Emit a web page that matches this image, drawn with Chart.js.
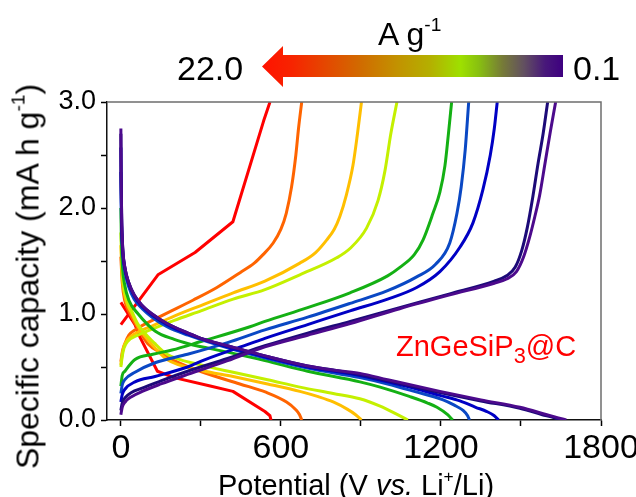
<!DOCTYPE html>
<html>
<head>
<meta charset="utf-8">
<script src="https://cdn.jsdelivr.net/npm/chart.js@4.4.1/dist/chart.umd.min.js"></script>
<style>
  html, body { margin: 0; padding: 0; background: #fff; }
  #wrap { position: relative; width: 636px; height: 497px; overflow: hidden; font-family: "Liberation Sans", Arial, sans-serif; color: #000; }
  #wrap canvas { position: absolute; left: 0; top: 0; }
  .txt { position: absolute; white-space: nowrap; }
  .sup { font-size: 0.6em; position: relative; top: -0.75em; }
  .sub { font-size: 0.75em; position: relative; top: 0.3em; }
  #arrow {
    position: absolute; left: 262px; top: 46px; width: 301px; height: 41px;
    clip-path: polygon(0 50%, 21px 0, 21px 9px, 100% 9px, 100% 31px, 21px 31px, 21px 100%);
    background: linear-gradient(to right, #ff1200 0%, #f72400 10%, #e34a00 22%, #d06c00 33%, #c29200 45%, #b4b000 56%, #9ee000 66%, #88c010 72%, #767a38 80%, #625060 87%, #48187a 94%, #3e0080 100%);
  }
</style>
</head>
<body>
<div id="wrap">
  <canvas id="chart" width="636" height="497"></canvas>
  <div id="arrow"></div>
  <div class="txt" style="left:378px; top:18px; font-size:32px; line-height:32px;">A g<span class="sup">-1</span></div>
  <div class="txt" style="left:177px; top:51px; font-size:34px; line-height:34px;">22.0</div>
  <div class="txt" style="left:573px; top:51px; font-size:34px; line-height:34px;">0.1</div>
  <div class="txt" style="left:396px; top:332px; font-size:29px; line-height:29px; color:#ff0000;">ZnGeSiP<span class="sub">3</span>@C</div>
  <div class="txt" style="left:106px; width:500px; text-align:center; top:471px; font-size:29px; line-height:29px;">Potential (V <i>vs.</i> Li<span class="sup">+</span>/Li)</div>
  <div class="txt" style="left:-190px; width:440px; text-align:center; top:258px; font-size:32px; line-height:32px; transform:rotate(-90deg);">Specific capacity (mA h g<span class="sup">-1</span>)</div>
</div>
<script>
// axis ticks
const xTicks = [0, 300, 600, 900, 1200, 1500, 1800];
const yTicks = [0, 0.5, 1.0, 1.5, 2.0, 2.5, 3.0];

// current densities, slowest (0.1 A/g) first, fastest (22.0 A/g) last
const curveColors = ['#4c0a8c', '#1c0a78', '#0000c4', '#0a48c4', '#14b014', '#c4f000', '#ffbf00', '#ff6400', '#ff0000'];

// charge branches [x, y]
const purpleCharge = [[0,0.05],[5,0.12],[16,0.17],[40,0.22],[80,0.27],[150,0.34],[250,0.43],[400,0.56],[540,0.69],[700,0.8],[860,0.91],[1045,1.05],[1233,1.18],[1400,1.29],[1446,1.33],[1483,1.4],[1510,1.54],[1532,1.72],[1552,1.92],[1570,2.12],[1590,2.42],[1610,2.72],[1630,3.0]];
const navyCharge = [[0,0.09],[5,0.16],[16,0.21],[40,0.26],[80,0.3],[150,0.37],[250,0.46],[400,0.58],[540,0.7],[700,0.82],[860,0.93],[1045,1.06],[1233,1.19],[1400,1.31],[1446,1.36],[1478,1.44],[1503,1.6],[1524,1.82],[1544,2.1],[1564,2.42],[1583,2.7],[1600,3.0]];
const blueCharge = [[0,0.17],[5,0.24],[15,0.29],[53,0.36],[128,0.41],[250,0.5],[316,0.57],[484,0.72],[540,0.77],[700,0.9],[859,1.03],[1000,1.14],[1109,1.25],[1196,1.4],[1271,1.63],[1320,1.86],[1357,2.17],[1385,2.5],[1400,2.75],[1411,3.0]];
const midBlueCharge = [[0,0.25],[5,0.33],[15,0.38],[53,0.45],[128,0.54],[250,0.62],[400,0.73],[540,0.85],[700,0.97],[859,1.1],[1000,1.22],[1109,1.35],[1180,1.47],[1233,1.67],[1260,1.95],[1276,2.2],[1291,2.55],[1304,3.0]];
const greenCharge = [[0,0.32],[5,0.42],[15,0.46],[53,0.57],[120,0.62],[192,0.66],[300,0.74],[484,0.88],[540,0.93],[700,1.06],[859,1.2],[1000,1.36],[1046,1.44],[1100,1.56],[1133,1.7],[1170,1.95],[1196,2.15],[1215,2.4],[1228,2.7],[1240,3.0]];
const yGreenCharge = [[0,0.5],[5,0.6],[12,0.68],[25,0.74],[64,0.8],[110,0.85],[200,0.94],[300,1.03],[421,1.14],[540,1.23],[671,1.37],[809,1.53],[860,1.62],[921,1.81],[964,2.07],[990,2.35],[1012,2.7],[1035,3.0]];
const yOrangeCharge = [[0,0.52],[5,0.62],[12,0.7],[25,0.76],[64,0.83],[110,0.88],[200,0.98],[300,1.08],[421,1.2],[540,1.31],[671,1.48],[730,1.58],[772,1.7],[800,1.8],[821,1.92],[845,2.12],[870,2.4],[887,2.7],[902,3.0]];
const orangeCharge = [[0,0.55],[6,0.65],[15,0.72],[30,0.8],[53,0.85],[150,0.98],[270,1.13],[360,1.25],[447,1.39],[500,1.48],[533,1.56],[571,1.67],[600,1.8],[620,1.95],[640,2.2],[656,2.5],[666,2.75],[678,3.0]];
const redCharge = [[0,0.9],[139,1.37],[278,1.58],[420,1.87],[535,2.82],[559,3.0]];

// discharge branches [x, y]
const purpleDischarge = [[0,2.75],[1,2.3],[3,1.9],[7,1.62],[15,1.44],[29,1.3],[50,1.18],[80,1.08],[117,1.0],[173,0.91],[252,0.82],[300,0.77],[400,0.7],[548,0.6],[700,0.51],[800,0.47],[896,0.44],[1000,0.38],[1196,0.27],[1350,0.19],[1496,0.12],[1597,0.05],[1640,0.02],[1670,0]];
const navyDischarge = [[0,2.7],[1,2.3],[3,1.9],[7,1.62],[15,1.44],[29,1.3],[50,1.18],[80,1.08],[117,1.0],[173,0.91],[252,0.82],[300,0.77],[400,0.7],[548,0.6],[700,0.51],[800,0.47],[896,0.43],[1000,0.37],[1196,0.26],[1350,0.18],[1496,0.11],[1580,0.05],[1625,0.02],[1645,0]];
const blueDischarge = [[0,2.57],[1,2.2],[3,1.85],[7,1.6],[15,1.43],[29,1.29],[50,1.17],[80,1.07],[117,0.99],[173,0.9],[252,0.81],[400,0.69],[548,0.59],[700,0.5],[896,0.42],[1000,0.36],[1100,0.3],[1200,0.23],[1271,0.18],[1330,0.12],[1372,0.08],[1400,0.04],[1416,0]];
const midBlueDischarge = [[0,2.34],[1,2.05],[3,1.78],[7,1.56],[15,1.4],[29,1.26],[50,1.14],[80,1.05],[117,0.97],[173,0.88],[252,0.8],[400,0.68],[548,0.58],[700,0.49],[896,0.4],[1000,0.34],[1100,0.27],[1208,0.19],[1250,0.14],[1283,0.09],[1300,0.04],[1307,0]];
const greenDischarge = [[0,2.0],[2,1.7],[6,1.45],[14,1.28],[30,1.13],[65,1.0],[128,0.84],[200,0.76],[253,0.72],[400,0.64],[540,0.56],[700,0.46],[896,0.36],[972,0.31],[1084,0.22],[1150,0.16],[1185,0.12],[1225,0.05],[1244,0]];
const yGreenDischarge = [[0,1.77],[3,1.5],[8,1.3],[20,1.15],[42,1.02],[65,0.9],[128,0.72],[173,0.62],[300,0.52],[421,0.45],[550,0.38],[671,0.31],[796,0.25],[896,0.2],[972,0.13],[1030,0.06],[1076,0]];
const yOrangeDischarge = [[0,1.65],[3,1.45],[8,1.28],[20,1.12],[42,1.0],[65,0.88],[128,0.68],[173,0.57],[300,0.47],[421,0.41],[550,0.34],[671,0.27],[740,0.22],[796,0.17],[850,0.1],[880,0.05],[902,0]];
const orangeDischarge = [[0,1.54],[5,1.3],[15,1.12],[35,1.0],[65,0.86],[101,0.72],[153,0.63],[200,0.56],[297,0.46],[446,0.34],[546,0.26],[621,0.17],[655,0.1],[670,0.05],[678,0]];
const redDischarge = [[0,1.11],[53,0.9],[72,0.78],[137,0.46],[200,0.4],[335,0.32],[420,0.27],[540,0.08],[559,0.04],[563,0]];

const chargeCurves = [purpleCharge, navyCharge, blueCharge, midBlueCharge, greenCharge, yGreenCharge, yOrangeCharge, orangeCharge, redCharge];
const dischargeCurves = [purpleDischarge, navyDischarge, blueDischarge, midBlueDischarge, greenDischarge, yGreenDischarge, yOrangeDischarge, orangeDischarge, redDischarge];

const FONT = '"Liberation Sans", Arial, sans-serif';

function makeSet(points, color, isRed) {
    return {
        data: points.map(p => ({ x: p[0], y: p[1] })),
        borderColor: color,
        borderWidth: 3,
        pointRadius: 0,
        fill: false,
        tension: 0,
        cubicInterpolationMode: isRed ? 'default' : 'monotone',
        borderJoinStyle: 'round'
    };
}

const datasets = [];
curveColors.forEach((c, i) => {
    const isRed = i === curveColors.length - 1;
    datasets.push(makeSet(chargeCurves[i], c, isRed));
    datasets.push(makeSet(dischargeCurves[i], c, isRed));
});

// grey frame on top and right side
const framePlugin = {
    id: 'frame',
    afterDraw(chart) {
        const { ctx, chartArea: a } = chart;
        ctx.save();
        ctx.strokeStyle = '#6e6e6e';
        ctx.lineWidth = 1.5;
        ctx.beginPath();
        ctx.moveTo(a.left, a.top);
        ctx.lineTo(a.right, a.top);
        ctx.lineTo(a.right, a.bottom);
        ctx.stroke();
        ctx.restore();
    }
};

new Chart(document.getElementById('chart'), {
    type: 'line',
    data: { datasets },
    options: {
        responsive: false,
        animation: false,
        events: [],
        layout: { padding: { top: 102, right: 35, left: 0, bottom: 0 } },
        plugins: { legend: { display: false }, tooltip: { enabled: false } },
        scales: {
            x: {
                type: 'linear',
                min: -52,
                max: 1800,
                afterBuildTicks: s => { s.ticks = xTicks.map(v => ({ value: v })); },
                afterFit: s => { s.height = 77; s.paddingLeft = 0; s.paddingRight = 0; },
                grid: { drawOnChartArea: false, tickLength: 6, tickWidth: 1.5, color: '#000' },
                border: { color: '#111', width: 1.5 },
                ticks: {
                    autoSkip: false, maxRotation: 0, color: '#000', padding: 2,
                    font: { family: FONT, size: 34 },
                    callback: v => (v % 600 === 0 ? String(v) : '')
                }
            },
            y: {
                min: 0,
                max: 3,
                afterBuildTicks: s => { s.ticks = yTicks.map(v => ({ value: v })); },
                afterFit: s => { s.width = 107; s.paddingTop = 0; s.paddingBottom = 0; },
                grid: { drawOnChartArea: false, tickLength: 6, tickWidth: 1.5, color: '#000' },
                border: { color: '#111', width: 1.5 },
                ticks: {
                    color: '#000', padding: 5,
                    font: { family: FONT, size: 27 },
                    callback: v => (Number.isInteger(v) ? v.toFixed(1) : '')
                }
            }
        }
    },
    plugins: [framePlugin]
});
</script>
</body>
</html>
